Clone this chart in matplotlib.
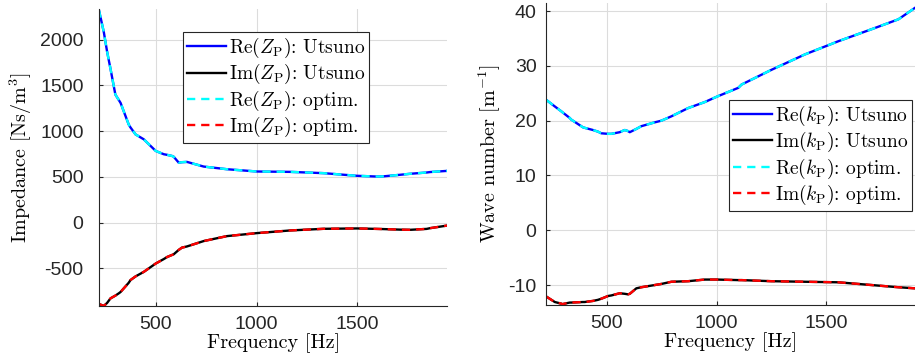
import numpy as np
import matplotlib.pyplot as plt

plt.rcParams['mathtext.fontset'] = 'cm'
plt.rcParams['axes.unicode_minus'] = False

# Impedance (left panel)
freq_z = [218, 243, 259, 276, 300, 317, 326, 366, 375, 400, 441, 500, 540, 557, 581, 589,
          614, 630, 655, 738, 853, 1002, 1167, 1332, 1497, 1596, 1629, 1711, 1761, 1843, 1860, 1946]
re_z = [2330, 2080, 1870, 1680, 1400, 1340, 1308, 1073, 1040, 964, 910, 783, 747, 740, 728, 720,
        655, 660, 663, 612, 583, 558, 554, 540, 511, 503, 505, 522, 533, 547, 552, 565]
im_z = [-891, -913, -880, -830, -800, -775, -760, -660, -630, -590, -540, -449, -400, -377, -355, -348,
        -300, -275, -262, -203, -149, -116, -87, -69, -65, -70, -72, -78, -80, -70, -62, -33]

# Wave number (right panel)
freq_k = [223, 262, 292, 295, 330, 337, 390, 398, 436, 459, 474, 505, 520, 558, 581, 596,
          604, 634, 657, 718, 748, 794, 870, 946, 1002, 1099, 1114, 1251, 1403, 1555, 1707, 1829, 1905]
re_k = [23.8, 22.6, 21.7, 21.6, 20.5, 20.2, 18.8, 18.7, 18.3, 18.0, 17.7, 17.6, 17.6, 17.9, 18.3, 18.1,
        17.9, 18.5, 19.0, 19.7, 20.0, 20.8, 22.3, 23.4, 24.4, 26.0, 26.6, 29.3, 32.1, 34.5, 36.7, 38.5, 40.6]
im_k = [-12.1, -13.1, -13.4, -13.5, -13.2, -13.2, -13.1, -13.1, -12.9, -12.7, -12.5, -12.0, -11.9, -11.5, -11.6, -11.7,
        -11.6, -10.6, -10.4, -10.0, -9.8, -9.4, -9.3, -9.0, -9.0, -9.1, -9.1, -9.3, -9.4, -9.5, -10.0, -10.4, -10.6]

serif = {'family': 'cmr10', 'size': 14.5}
legfont = {'family': 'cmr10', 'size': 14}

fig = plt.figure(figsize=(9.15, 3.64), dpi=100)
ax1 = fig.add_axes([0.108, 0.159, 0.381, 0.816])
ax2 = fig.add_axes([0.597, 0.162, 0.403, 0.83])


def style(ax, ypad):
    ax.spines['top'].set_visible(False)
    ax.spines['right'].set_visible(False)
    for s in ['left', 'bottom']:
        ax.spines[s].set_color('#262626')
        ax.spines[s].set_linewidth(0.8)
    ax.grid(True, color='#dcdcdc', linewidth=0.8)
    ax.set_axisbelow(True)
    ax.tick_params(direction='in', length=3, labelsize=14, colors='#262626')
    ax.tick_params(axis='x', pad=7)
    ax.tick_params(axis='y', pad=ypad)
    for lab in ax.get_xticklabels() + ax.get_yticklabels():
        lab.set_family('Liberation Sans')


# Left: impedance
ax1.plot(freq_z, re_z, color='blue', lw=1.7, label=r'Re$(Z_\mathrm{P})$: Utsuno')
ax1.plot(freq_z, im_z, color='black', lw=1.7, label=r'Im$(Z_\mathrm{P})$: Utsuno')
ax1.plot(freq_z, re_z, color='cyan', lw=1.7, ls=(0, (3.5, 2.5)), label=r'Re$(Z_\mathrm{P})$: optim.')
ax1.plot(freq_z, im_z, color='red', lw=1.7, ls=(0, (3.5, 2.5)), label=r'Im$(Z_\mathrm{P})$: optim.')
ax1.set_xlim(218, 1946)
ax1.set_ylim(-915, 2335)
ax1.set_xticks([500, 1000, 1500])
ax1.set_yticks([-500, 0, 500, 1000, 1500, 2000])
ax1.set_xlabel('Frequency [Hz]', fontdict=serif, labelpad=0)
ax1.set_ylabel(r'Impedance [Ns/m$^3$]', fontdict=serif, labelpad=4)
style(ax1, 11)
leg1 = ax1.legend(loc='upper left', bbox_to_anchor=(0.241, 0.923), prop=legfont,
                  fancybox=False, edgecolor='#262626', framealpha=1, handlelength=2.0, handletextpad=0.15,
                  borderpad=0.2, labelspacing=0.12, borderaxespad=0)
leg1.get_frame().set_linewidth(0.8)

# Right: wave number
ax2.plot(freq_k, re_k, color='blue', lw=1.7, label=r'Re$(k_\mathrm{P})$: Utsuno')
ax2.plot(freq_k, im_k, color='black', lw=1.7, label=r'Im$(k_\mathrm{P})$: Utsuno')
ax2.plot(freq_k, re_k, color='cyan', lw=1.7, ls=(0, (3.5, 2.5)), label=r'Re$(k_\mathrm{P})$: optim.')
ax2.plot(freq_k, im_k, color='red', lw=1.7, ls=(0, (3.5, 2.5)), label=r'Im$(k_\mathrm{P})$: optim.')
ax2.set_xlim(223, 1905)
ax2.set_ylim(-13.65, 41.5)
ax2.set_xticks([500, 1000, 1500])
ax2.set_yticks([-10, 0, 10, 20, 30, 40])
ax2.set_xlabel('Frequency [Hz]', fontdict=serif, labelpad=0)
ax2.set_ylabel(r'Wave number [m$^{-1}$]', fontdict=serif, labelpad=4)
style(ax2, 7)
leg2 = ax2.legend(loc='upper right', bbox_to_anchor=(0.992, 0.679), prop=legfont,
                  fancybox=False, edgecolor='#262626', framealpha=1, handlelength=2.0, handletextpad=0.15,
                  borderpad=0.2, labelspacing=0.12, borderaxespad=0)
leg2.get_frame().set_linewidth(0.8)

fig.savefig('out.png', dpi=100)
